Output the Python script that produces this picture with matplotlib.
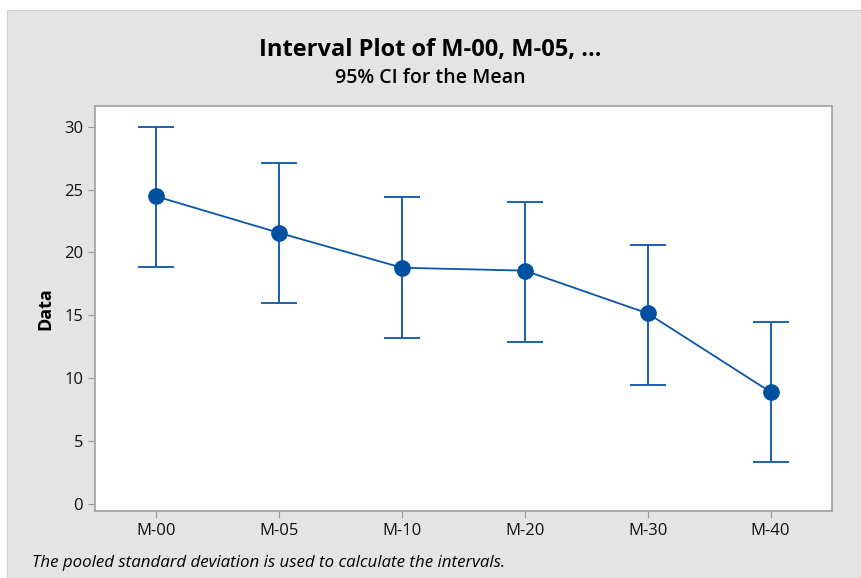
import numpy as np
import matplotlib.pyplot as plt
from matplotlib.patches import Rectangle

groups = ['M-00', 'M-05', 'M-10', 'M-20', 'M-30', 'M-40']
means = [24.45, 21.55, 18.78, 18.55, 15.15, 8.9]
lower = [18.8, 15.98, 13.22, 12.85, 9.45, 3.35]
upper = [29.95, 27.1, 24.38, 24.0, 20.6, 14.5]
yticks = [0, 5, 10, 15, 20, 25, 30]

blue = '#0a55a8'
plt.rcParams['font.family'] = ['Open Sans', 'DejaVu Sans']

fig = plt.figure(figsize=(8.61, 5.78), dpi=100)
fig.patch.set_facecolor('white')
# gray panel behind the chart
fig.patches.append(Rectangle((7 / 861, 0), 1, 1 - 10 / 578, transform=fig.transFigure,
                             facecolor='#e4e4e4', edgecolor='#cfcfcf', lw=0.8, zorder=-10))

ax = fig.add_axes([95 / 861, 1 - 511 / 578, (832 - 95) / 861, (511 - 106) / 578])
ax.set_zorder(1)
ax.set_facecolor('white')

x = np.arange(len(groups))
m = np.array(means)
yerr = [m - np.array(lower), np.array(upper) - m]
ax.errorbar(x, m, yerr=yerr, fmt='none', ecolor=blue, elinewidth=1.3, capsize=13, capthick=1.3, zorder=2)
ax.plot(x, m, color='#0a55a8', lw=1.3, marker='o', markersize=11,
        markerfacecolor='#0050a0', markeredgecolor='#0050a0', zorder=3)

ax.set_xlim(-0.5, 5.5)
ax.set_ylim(-0.56, 31.64)
ax.set_xticks(x)
ax.set_xticklabels(groups, fontsize=12)
ax.set_yticks(yticks)
ax.set_yticklabels([str(t) for t in yticks], fontsize=12)
ax.tick_params(colors='#999999', length=5, labelcolor='#111111')
for s in ax.spines.values():
    s.set_color('#a0a0a0')
    s.set_linewidth(1.2)
ax.set_ylabel('Data', fontsize=13, fontweight='bold', labelpad=7)

fig.text(0.5, 1 - 50 / 578, 'Interval Plot of M-00, M-05, ...', ha='center', va='center',
         fontsize=17, fontweight='bold')
fig.text(0.5, 1 - 78 / 578, '95% CI for the Mean', ha='center', va='center', fontsize=14,
         fontweight='semibold')
fig.text(32 / 861, 1 - 563 / 578, 'The pooled standard deviation is used to calculate the intervals.',
         ha='left', va='center', fontsize=12.2, style='italic')

fig.savefig('out.png', dpi=100)
